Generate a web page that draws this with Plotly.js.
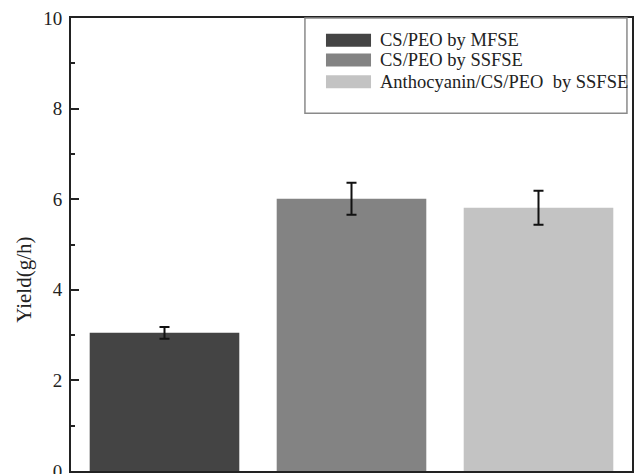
<!DOCTYPE html>
<html>
<head>
<meta charset="utf-8">
<script src="https://cdn.plot.ly/plotly-3.0.1.min.js"></script>
<style>
  html, body { margin: 0; padding: 0; background: #ffffff; }
  #chart { width: 635px; height: 474px; }
</style>
</head>
<body>
<div id="chart"></div>
<script>
// ---- data ----
const categories = ["CS/PEO by MFSE", "CS/PEO by SSFSE", "Anthocyanin/CS/PEO\u00a0 by SSFSE"];
const yieldValues = [3.05, 6.01, 5.81];
const yieldErrors = [0.13, 0.355, 0.375];
const yTickValues = [0, 2, 4, 6, 8, 10];
const yTickLabels = ["0", "2", "4", "6", "8", "10"];

// ---- styling ----
const barColors = ["#444444", "#838383", "#c3c3c3"];
const serif = "Liberation Serif";

const trace = {
  type: "bar",
  x: categories,
  y: yieldValues,
  marker: { color: barColors, line: { width: 0 } },
  error_y: {
    type: "data",
    array: yieldErrors,
    visible: true,
    color: "#111111",
    thickness: 2,
    width: 5
  },
  showlegend: false,
  hoverinfo: "skip"
};

// manual legend (wide swatches as in the reference)
const legendRowsY = [0.9508, 0.9073, 0.8594];
const swatchHalf = 0.0143;
const shapes = [
  { type: "rect", xref: "paper", yref: "paper", x0: 0.417, x1: 0.991, y0: 0.790, y1: 1.0,
    line: { color: "#8a8a8a", width: 1.5 }, fillcolor: "rgba(255,255,255,0)" }
];
const annotations = [
  { xref: "paper", yref: "paper", x: -0.083, y: 0.423, text: "Yield(g/h)", textangle: -90,
    showarrow: false, xanchor: "center", yanchor: "middle",
    font: { family: serif, size: 21, color: "#222222" } }
];
categories.forEach((name, i) => {
  shapes.push({ type: "rect", xref: "paper", yref: "paper",
    x0: 0.4545, x1: 0.5348, y0: legendRowsY[i] - swatchHalf, y1: legendRowsY[i] + swatchHalf,
    line: { width: 0 }, fillcolor: barColors[i] });
  annotations.push({ xref: "paper", yref: "paper", x: 0.547, y: legendRowsY[i], text: name,
    showarrow: false, xanchor: "left", yanchor: "middle",
    font: { family: serif, size: 18.5, color: "#222222" } });
});

const layout = {
  width: 635,
  height: 474,
  margin: { l: 71, r: 3, t: 18, b: 3, pad: 0 },
  paper_bgcolor: "#ffffff",
  plot_bgcolor: "#ffffff",
  bargap: 0.2,
  font: { family: serif, size: 18, color: "#222222" },
  xaxis: {
    type: "category",
    showticklabels: false,
    ticks: "",
    showgrid: false,
    zeroline: false,
    showline: true,
    mirror: true,
    linecolor: "#222222",
    linewidth: 2
  },
  yaxis: {
    range: [0, 10],
    tickvals: yTickValues,
    ticktext: yTickLabels,
    ticks: "inside",
    ticklen: 8,
    tickwidth: 2,
    tickcolor: "#222222",
    ticklabelstandoff: 3,
    ticklabeloverflow: "allow",
    minor: { dtick: 1, ticks: "inside", ticklen: 4, tickwidth: 2, tickcolor: "#222222" },
    showgrid: false,
    zeroline: false,
    showline: true,
    mirror: true,
    linecolor: "#222222",
    linewidth: 2,
    tickfont: { family: serif, size: 19, color: "#222222" }
  },
  shapes: shapes,
  annotations: annotations
};

Plotly.newPlot("chart", [trace], layout, { staticPlot: true, displayModeBar: false });
</script>
</body>
</html>
